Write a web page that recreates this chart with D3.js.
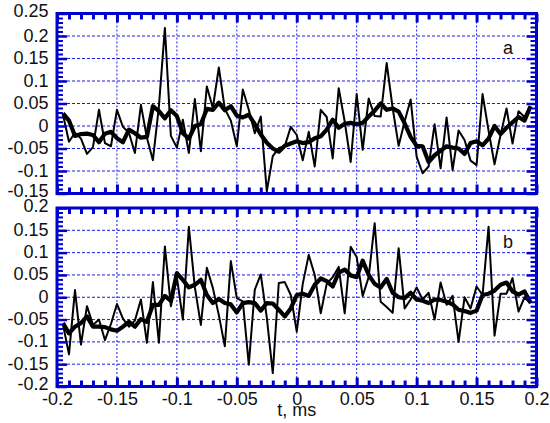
<!DOCTYPE html>
<html><head><meta charset="utf-8">
<script src="https://cdn.jsdelivr.net/npm/d3@7"></script>
<style>html,body{margin:0;padding:0;background:#fff;}svg{display:block;}</style>
</head><body>
<svg id="chart" width="550" height="423"></svg>
<script>
const tVals = [-0.195,-0.19,-0.185,-0.18,-0.175,-0.17,-0.165,-0.16,-0.155,-0.15,-0.145,-0.14,-0.135,-0.13,-0.125,-0.12,-0.115,-0.11,-0.105,-0.1,
-0.095,-0.09,-0.085,-0.08,-0.075,-0.07,-0.065,-0.06,-0.055,-0.05,-0.045,-0.04,-0.035,-0.03,-0.025,-0.02,-0.015,-0.01,-0.005,0,
0.005,0.01,0.015,0.02,0.025,0.03,0.035,0.04,0.045,0.05,0.055,0.06,0.065,0.07,0.075,0.08,0.085,0.09,0.095,0.1,
0.105,0.11,0.115,0.12,0.125,0.13,0.135,0.14,0.145,0.15,0.155,0.16,0.165,0.17,0.175,0.18,0.185,0.19,0.195];

const aThin = [0.025,-0.035,-0.015,-0.028,-0.062,-0.047,0.036,-0.038,-0.045,0.036,-0.002,-0.015,-0.060,0.047,-0.026,-0.076,0.043,0.218,-0.022,-0.048,
0.014,-0.060,0.060,-0.056,0.088,0.040,0.130,0.038,0.012,-0.045,0.081,0.036,-0.016,0.021,-0.145,-0.067,-0.049,-0.045,-0.002,-0.020,
-0.076,-0.013,-0.090,0.036,0.020,-0.072,0.084,0.010,-0.080,0.071,-0.053,0.061,0.022,0.021,0.140,0.040,-0.044,0.010,0.059,-0.068,
-0.105,-0.090,0.004,-0.094,0.019,-0.098,-0.010,-0.031,-0.077,-0.087,0.071,-0.010,-0.085,-0.020,0.039,-0.039,0.033,0.020,0.044];

const aThick = [0.028,0.012,-0.022,-0.018,-0.017,-0.020,-0.036,-0.017,-0.013,-0.027,-0.036,-0.008,-0.016,-0.026,-0.024,0.044,0.033,0.017,0.035,0.022,
-0.016,-0.028,0.000,0.004,0.038,0.036,0.052,0.035,0.044,0.023,0.019,0.025,0.004,-0.019,-0.037,-0.050,-0.057,-0.044,-0.039,-0.034,
-0.038,-0.036,-0.027,-0.023,-0.008,0.014,-0.004,0.005,0.007,0.004,0.007,0.021,0.034,0.050,0.036,0.039,0.032,0.006,-0.024,-0.044,
-0.045,-0.080,-0.065,-0.055,-0.045,-0.048,-0.050,-0.062,-0.038,-0.034,-0.043,-0.028,0.000,-0.018,-0.004,0.008,0.020,0.012,0.044];

const bThin = [-0.061,-0.128,0.016,-0.106,-0.020,-0.062,-0.050,-0.096,-0.060,-0.015,-0.048,-0.066,-0.052,-0.005,-0.102,0.034,-0.102,0.114,-0.020,0.045,
-0.050,0.158,0.022,-0.062,0.066,0.021,-0.040,-0.110,0.081,-0.002,-0.009,-0.151,0.017,0.051,-0.045,-0.170,0.032,0.034,0.005,-0.077,
0.030,0.095,0.050,-0.036,0.030,0.045,0.068,-0.036,0.113,0.090,0.003,0.045,0.166,-0.010,-0.022,-0.035,0.110,-0.025,-0.005,0.022,
-0.005,0.010,-0.050,0.033,-0.017,0.003,-0.100,0.000,-0.025,0.024,0.005,0.158,-0.086,0.008,0.008,0.043,-0.032,0.000,-0.014];

const bThick = [-0.058,-0.081,-0.066,-0.058,-0.043,-0.066,-0.066,-0.067,-0.072,-0.075,-0.066,-0.055,-0.066,-0.049,-0.055,-0.017,-0.017,0.003,-0.008,0.054,
0.039,0.022,0.028,0.039,0.005,-0.013,-0.004,-0.013,-0.016,-0.034,-0.013,-0.011,-0.013,-0.030,-0.013,-0.014,-0.028,-0.043,-0.025,0.005,
0.008,0.003,0.028,0.042,0.036,0.024,0.055,0.062,0.049,0.045,0.082,0.050,0.030,0.022,0.041,0.010,0.000,-0.002,0.010,-0.005,
-0.008,-0.013,-0.005,-0.006,-0.010,-0.016,-0.028,-0.031,-0.035,-0.030,0.005,0.008,0.015,0.028,0.033,0.013,0.006,0.013,-0.012];

const xTickVals = [-0.2,-0.15,-0.1,-0.05,0,0.05,0.1,0.15,0.2];
const xTickLabels = ["-0.2","-0.15","-0.1","-0.05","0","0.05","0.1","0.15","0.2"];
const aTickVals = [-0.15,-0.1,-0.05,0,0.05,0.1,0.15,0.2,0.25];
const aTickLabels = ["-0.15","-0.1","-0.05","0","0.05","0.1","0.15","0.2","0.25"];
const bTickVals = [-0.2,-0.15,-0.1,-0.05,0,0.05,0.1,0.15,0.2];
const bTickLabels = ["-0.2","-0.15","-0.1","-0.05","0","0.05","0.1","0.15","0.2"];
const panelLetters = ["a","b"];
const xTitle = "t, ms";

const BLUE = "#0000cc";
const GRID = "#1a1ae6";
const FONT = "'Liberation Sans', Arial, sans-serif";
const FS = 18;
const svg = d3.select("#chart");

const x = d3.scaleLinear().domain([-0.2, 0.2]).range([57, 536.5]);

function minorVals(lo, hi, majors) {
  const out = [];
  for (let k = Math.round(lo * 100); k <= Math.round(hi * 100); k++) {
    const v = k / 100;
    if (!majors.some(m => Math.abs(m - v) < 1e-9)) out.push(v);
  }
  return out;
}

function panel(y, tickVals, tickLabels, thin, thick, letter, letterY) {
  const [y0, y1] = y.range();  // bottom, top
  const g = svg.append("g");
  const innerY = tickVals.slice(1, -1);
  const innerX = xTickVals.slice(1, -1);
  g.append("g").selectAll("line").data(innerY).join("line")
    .attr("x1", x.range()[0]).attr("x2", x.range()[1])
    .attr("y1", d => y(d)).attr("y2", d => y(d))
    .attr("stroke", GRID).attr("stroke-width", 1).attr("stroke-dasharray", "3,2");
  g.append("g").selectAll("line").data(innerX).join("line")
    .attr("x1", d => x(d)).attr("x2", d => x(d))
    .attr("y1", y1).attr("y2", y0)
    .attr("stroke", GRID).attr("stroke-width", 1).attr("stroke-dasharray", "2,2");

  const line = d3.line().x((d, i) => x(tVals[i])).y(d => y(d));
  g.append("path").datum(thin).attr("d", line)
    .attr("fill", "none").attr("stroke", "#000").attr("stroke-width", 2).attr("stroke-linejoin", "round");
  g.append("path").datum(thick).attr("d", line)
    .attr("fill", "none").attr("stroke", "#000").attr("stroke-width", 4.2).attr("stroke-linejoin", "round");

  const xMinor = minorVals(-0.2, 0.2, xTickVals);
  const yMinor = minorVals(y.domain()[0], y.domain()[1], tickVals);
  const style = sel => { sel.select(".domain").remove(); sel.selectAll("line").attr("stroke", BLUE); };
  g.append("g").attr("transform", `translate(0,${y1})`)
    .call(d3.axisTop(x).tickValues(xMinor).tickSize(-6).tickFormat(""))
    .call(style).selectAll("line").attr("stroke-width", 3);
  g.append("g").attr("transform", `translate(0,${y1})`)
    .call(d3.axisTop(x).tickValues(xTickVals).tickSize(-9).tickFormat(""))
    .call(style).selectAll("line").attr("stroke-width", 3);
  g.append("g").attr("transform", `translate(0,${y0})`)
    .call(d3.axisBottom(x).tickValues(xMinor).tickSize(-6).tickFormat(""))
    .call(style).selectAll("line").attr("stroke-width", 3);
  g.append("g").attr("transform", `translate(0,${y0})`)
    .call(d3.axisBottom(x).tickValues(xTickVals).tickSize(-9).tickFormat(""))
    .call(style).selectAll("line").attr("stroke-width", 3);
  g.append("g").attr("transform", `translate(${x.range()[0]},0)`)
    .call(d3.axisLeft(y).tickValues(yMinor).tickSize(-6).tickFormat(""))
    .call(style).selectAll("line").attr("stroke-width", 2);
  g.append("g").attr("transform", `translate(${x.range()[0]},0)`)
    .call(d3.axisLeft(y).tickValues(tickVals).tickSize(-10).tickFormat(""))
    .call(style).selectAll("line").attr("stroke-width", 2.5);
  g.append("g").attr("transform", `translate(${x.range()[1]},0)`)
    .call(d3.axisRight(y).tickValues(yMinor).tickSize(-6).tickFormat(""))
    .call(style).selectAll("line").attr("stroke-width", 2);
  g.append("g").attr("transform", `translate(${x.range()[1]},0)`)
    .call(d3.axisRight(y).tickValues(tickVals).tickSize(-10).tickFormat(""))
    .call(style).selectAll("line").attr("stroke-width", 2.5);

  g.append("rect").attr("x", x.range()[0]).attr("y", y1)
    .attr("width", x.range()[1] - x.range()[0]).attr("height", y0 - y1)
    .attr("fill", "none").attr("stroke", BLUE).attr("stroke-width", 3);

  const ya = g.append("g").attr("transform", `translate(${x.range()[0]},0)`)
    .call(d3.axisLeft(y).tickValues(tickVals).tickSize(0).tickPadding(8.5)
      .tickFormat((d, i) => tickLabels[i]));
  ya.select(".domain").remove();
  const nT = tickVals.length;
  ya.selectAll("text").attr("font-family", FONT).attr("font-size", FS).attr("fill", "#111")
    .attr("dy", "0.28em")
    .attr("y", (d, i) => (i === 0 || i === nT - 1) ? -1.8 : 0);

  g.append("text").attr("x", 503).attr("y", letterY).text(letter)
    .attr("font-family", FONT).attr("font-size", FS).attr("fill", "#111");
}

const yA = d3.scaleLinear().domain([-0.15, 0.25]).range([193.5, 13.5]);
const yB = d3.scaleLinear().domain([-0.2, 0.2]).range([386.5, 208]);

panel(yA, aTickVals, aTickLabels, aThin, aThick, panelLetters[0], 53.5);
panel(yB, bTickVals, bTickLabels, bThin, bThick, panelLetters[1], 248.3);

const xa = svg.append("g").attr("transform", `translate(0,386.5)`)
  .call(d3.axisBottom(x).tickValues(xTickVals).tickSize(0).tickPadding(6)
    .tickFormat((d, i) => xTickLabels[i]));
xa.select(".domain").remove();
xa.selectAll("text").attr("font-family", FONT).attr("font-size", FS).attr("fill", "#111");

svg.append("text").attr("x", x(0)).attr("y", 416).attr("text-anchor", "middle")
  .attr("font-family", FONT).attr("font-size", FS).attr("fill", "#111").text(xTitle);
</script>
</body></html>
